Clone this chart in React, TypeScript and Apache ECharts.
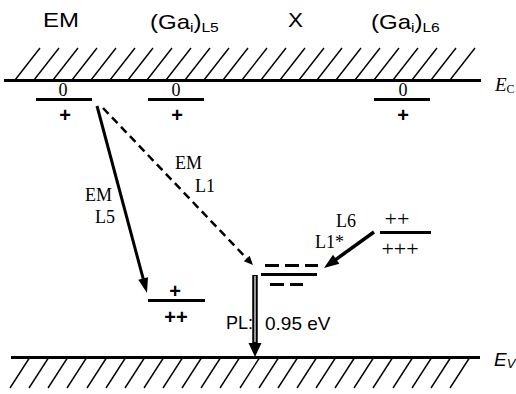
import React, { useEffect, useRef } from "react";
import * as echarts from "echarts";

const SANS = "'Liberation Sans', Arial, sans-serif";
const SERIF = "'Liberation Serif', 'Times New Roman', serif";

// Band edges: [xStart, xEnd, y]
const bandEdges: number[][] = [
  [4, 481, 80], // Ec
  [11, 480, 357], // Ev
];
// Hatch foot positions along Ec (lines go up-right) and Ev (lines go down-left)
const ecHatchX = [15, 34, 53, 72, 91, 110, 128, 147, 166, 185, 204, 223, 242, 261, 280, 299, 317, 336, 355, 374, 393, 412, 431, 450];
const evHatchX = [10, 29, 48, 67, 87, 106, 125, 144, 163, 182, 201, 220, 240, 259, 278, 297, 316, 335, 354, 373, 393, 412, 431, 450];

// Defect levels: [xStart, xEnd, y]
const solidLevels: number[][] = [
  [36, 92, 99], // EM 0/+
  [148, 204, 99], // L5 0/+
  [374, 430, 99], // L6 0/+
  [148, 205, 300], // L5 +/++
  [380, 431, 232], // L6 ++/+++
  [261, 317, 274], // X
];
const dashedLevels: number[][] = [
  [265, 318, 265],
  [270, 303, 284],
];

// Transitions: [x1, y1, x2, y2]
const arrowNames = ["EM-L5", "EM-L1", "L6-L1", "PL"];
const arrowCoords: number[][] = [
  [97, 106, 147, 293],
  [103, 108, 253, 265],
  [374, 232, 324, 268],
  [255, 275, 255, 357],
];

const arrowStyles: Record<string, { lw: number; hl: number; hw: number; dash?: number[]; double?: boolean }> = {
  "EM-L5": { lw: 3, hl: 15, hw: 10 },
  "EM-L1": { lw: 2.5, hl: 9, hw: 8, dash: [8, 5] },
  "L6-L1": { lw: 3.5, hl: 15, hw: 11 },
  PL: { lw: 5.5, hl: 14, hw: 13, double: true },
};

const HATCH = { ecTop: 48, ecDx: 25, evBottom: 388, evDx: 20 };

function txt(x: number, y: number, text: string, extra: any = {}, el: any = {}) {
  return {
    type: "text",
    x,
    y,
    ...el,
    style: {
      text,
      fill: "#000",
      fontFamily: SANS,
      fontSize: 18,
      textAlign: "left",
      textVerticalAlign: "middle",
      align: "left",
      verticalAlign: "middle",
      ...extra,
    },
  };
}

const subRich = (family: string) => ({
  n: { fontSize: 20, fontFamily: family, lineHeight: 24 },
  s: { fontSize: 13, fontFamily: family, lineHeight: 13, verticalAlign: "bottom" },
});

export default function App() {
  const ref = useRef<HTMLDivElement>(null);
  useEffect(() => {
    if (!ref.current) return;
    const chart = echarts.init(ref.current, undefined, { renderer: "svg" });
    const option: any = {
      animation: false,
      backgroundColor: "#fff",
      grid: { left: 0, right: 0, top: 0, bottom: 0, containLabel: false },
      xAxis: { type: "value", min: 0, max: 516, show: false },
      yAxis: { type: "value", min: 0, max: 394, inverse: true, show: false },
      series: [
        {
          type: "lines",
          coordinateSystem: "cartesian2d",
          silent: true,
          lineStyle: { color: "#000", width: 3, opacity: 1 },
          data: bandEdges.map(([a, b, y]) => ({ coords: [[a, y], [b, y]] })),
        },
        {
          type: "lines",
          coordinateSystem: "cartesian2d",
          silent: true,
          lineStyle: { color: "#000", width: 1.4, opacity: 1 },
          data: [
            ...ecHatchX.map((x) => ({ coords: [[x, bandEdges[0][2]], [x + HATCH.ecDx, HATCH.ecTop]] })),
            ...evHatchX.map((x) => ({ coords: [[x + HATCH.evDx, bandEdges[1][2]], [x, HATCH.evBottom]] })),
          ],
        },
        {
          type: "lines",
          coordinateSystem: "cartesian2d",
          silent: true,
          lineStyle: { color: "#000", width: 3, opacity: 1 },
          data: solidLevels.map(([a, b, y]) => ({ coords: [[a, y], [b, y]] })),
        },
        {
          type: "lines",
          coordinateSystem: "cartesian2d",
          silent: true,
          lineStyle: { color: "#000", width: 3, opacity: 1, type: [14, 6] },
          data: dashedLevels.map(([a, b, y]) => ({ coords: [[a, y], [b, y]] })),
        },
        {
          type: "custom",
          coordinateSystem: "cartesian2d",
          silent: true,
          clip: false,
          data: arrowCoords,
          renderItem: (params: any, api: any) => {
            const st = arrowStyles[arrowNames[params.dataIndex]];
            const p1 = api.coord([api.value(0), api.value(1)]);
            const p2 = api.coord([api.value(2), api.value(3)]);
            const dx = p2[0] - p1[0];
            const dy = p2[1] - p1[1];
            const len = Math.hypot(dx, dy);
            const ux = dx / len;
            const uy = dy / len;
            const bx = p2[0] - ux * st.hl;
            const by = p2[1] - uy * st.hl;
            const nx = -uy;
            const ny = ux;
            const children: any[] = [
              {
                type: "line",
                shape: { x1: p1[0], y1: p1[1], x2: bx + ux, y2: by + uy },
                style: { stroke: "#000", lineWidth: st.lw, lineDash: st.dash || null, fill: null },
              },
            ];
            if (st.double) {
              children.push({
                type: "line",
                shape: { x1: p1[0], y1: p1[1] + 1, x2: bx, y2: by - 1 },
                style: { stroke: "#fff", lineWidth: 1.2, fill: null },
              });
            }
            children.push({
              type: "polygon",
              shape: {
                points: [
                  [p2[0], p2[1]],
                  [bx + (nx * st.hw) / 2, by + (ny * st.hw) / 2],
                  [bx - (nx * st.hw) / 2, by - (ny * st.hw) / 2],
                ],
              },
              style: { fill: "#000" },
            });
            return { type: "group", children };
          },
        },
      ],
      graphic: [
        // top labels
        txt(43, 20, "EM", { fontSize: 20 }, { scaleX: 1.2 }),
        txt(150, 22, "{n|(Ga}{s|i}{n|)}{s|L5}", { rich: subRich(SANS) }, { scaleX: 1.2 }),
        txt(288, 20, "X", { fontSize: 20 }, { scaleX: 1.12 }),
        txt(371, 22, "{n|(Ga}{s|i}{n|)}{s|L6}", { rich: subRich(SANS) }, { scaleX: 1.2 }),
        // band labels
        txt(495, 84, "{n|E}{s|C}", {
          rich: {
            n: { fontSize: 19, fontFamily: SERIF, fontStyle: "italic", lineHeight: 22 },
            s: { fontSize: 12, fontFamily: SERIF, lineHeight: 12, verticalAlign: "bottom" },
          },
        }),
        txt(494, 359, "{n|E}{s|V}", {
          rich: {
            n: { fontSize: 19, fontFamily: SANS, fontStyle: "italic", lineHeight: 22 },
            s: { fontSize: 13, fontFamily: SANS, fontStyle: "italic", lineHeight: 13, verticalAlign: "bottom" },
          },
        }),
        // level charge states
        txt(63, 90, "0", { fontFamily: SERIF, fontSize: 18, textAlign: "center", align: "center" }),
        txt(176, 90, "0", { fontFamily: SERIF, fontSize: 18, textAlign: "center", align: "center" }),
        txt(403, 90, "0", { fontFamily: SERIF, fontSize: 18, textAlign: "center", align: "center" }),
        txt(65, 115, "+", { fontSize: 20, fontWeight: "bold", textAlign: "center", align: "center" }),
        txt(177, 115, "+", { fontSize: 20, fontWeight: "bold", textAlign: "center", align: "center" }),
        txt(403, 115, "+", { fontSize: 20, fontWeight: "bold", textAlign: "center", align: "center" }),
        txt(175, 291, "+", { fontSize: 20, fontWeight: "bold", textAlign: "center", align: "center" }),
        txt(176, 317, "++", { fontSize: 20, fontWeight: "bold", textAlign: "center", align: "center" }),
        txt(397, 218, "++", { fontFamily: SERIF, fontSize: 22, textAlign: "center", align: "center" }),
        txt(400, 248, "+++", { fontFamily: SERIF, fontSize: 22, textAlign: "center", align: "center" }),
        // transition labels
        txt(175, 163, "EM", { fontFamily: SERIF }),
        txt(195, 186, "L1", { fontFamily: SERIF }),
        txt(85, 195, "EM", { fontFamily: SERIF }),
        txt(95, 217, "L5", { fontFamily: SERIF }),
        txt(336, 221, "L6", { fontFamily: SERIF }),
        txt(315, 242, "L1*", { fontFamily: SERIF }),
        txt(226, 323, "PL:", { fontSize: 18 }),
        txt(265, 323, "0.95 eV", { fontSize: 19 }),
      ],
    };
    chart.setOption(option);
    return () => chart.dispose();
  }, []);
  return (
    <div
      ref={ref}
      style={{ position: "absolute", left: 0, top: 0, width: 516, height: 394, background: "#fff" }}
    />
  );
}
